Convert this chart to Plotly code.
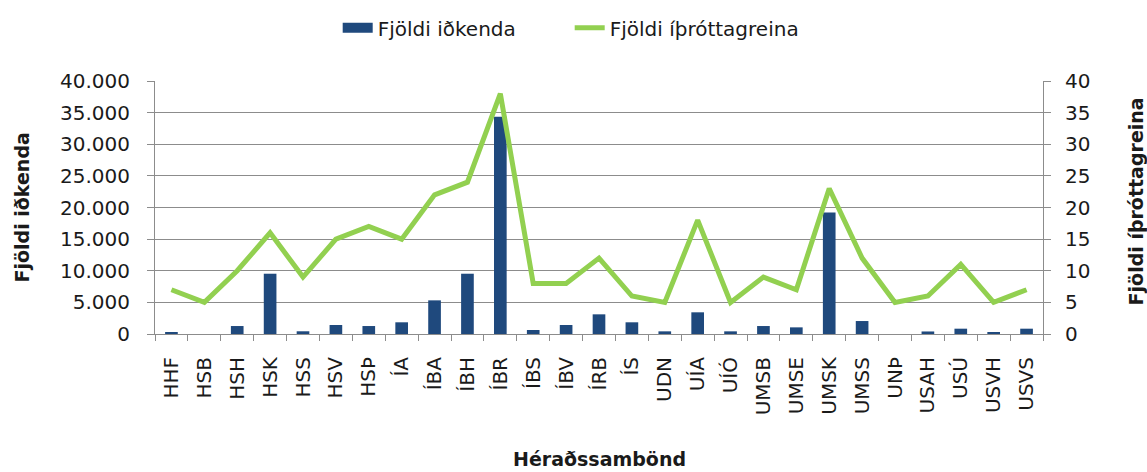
import plotly.graph_objects as go

categories = ["HHF", "HSB", "HSH", "HSK", "HSS", "HSV", "HSÞ", "ÍA", "ÍBA", "ÍBH", "ÍBR", "ÍBS", "ÍBV",
              "ÍRB", "ÍS", "UDN", "UÍA", "UÍÓ", "UMSB", "UMSE", "UMSK", "UMSS", "UNÞ", "USAH", "USÚ",
              "USVH", "USVS"]
idkendur = [300, 0, 1260, 9530, 430, 1420, 1260, 1850, 5320, 9530, 34330, 630, 1420,
            3110, 1850, 420, 3430, 420, 1260, 1050, 19220, 2050, 0, 400, 840, 200, 840]
greinar = [7, 5, 10, 16, 9, 15, 17, 15, 22, 24, 38, 8, 8,
           12, 6, 5, 18, 5, 9, 7, 23, 12, 5, 6, 11, 5, 7]

left_ticks = [0, 5000, 10000, 15000, 20000, 25000, 30000, 35000, 40000]
right_ticks = [0, 5, 10, 15, 20, 25, 30, 35, 40]

FONT = "DejaVu Sans"
TXT = "#1a1a1a"
GRID = "#8c8c8c"
BAR_COLOR = "#1F497D"
LINE_COLOR = "#92D050"

fig = go.Figure()
fig.add_trace(go.Bar(x=categories, y=idkendur, name="Fjöldi iðkenda", showlegend=False,
                     legendgroup="bar",
                     marker=dict(color=BAR_COLOR, line=dict(width=0)), yaxis="y"))
# legend entry with a wide rectangular swatch, like the reference
fig.add_trace(go.Scatter(x=[None], y=[None], name="Fjöldi iðkenda", mode="lines",
                         legendgroup="bar", line=dict(color=BAR_COLOR, width=13), yaxis="y"))
fig.add_trace(go.Scatter(x=categories, y=greinar, name="Fjöldi íþróttagreina", mode="lines",
                         line=dict(color=LINE_COLOR, width=5), yaxis="y2"))

fig.update_layout(
    width=1147, height=472,
    margin=dict(l=155, r=104, t=81, b=138, autoexpand=False),
    paper_bgcolor="white", plot_bgcolor="white",
    font=dict(family=FONT, color=TXT, size=20),
    separators=",.",
    bargap=0.615,
    showlegend=True,
    legend=dict(orientation="h", x=0.467, xanchor="center", y=1.21, yanchor="middle",
                font=dict(size=20, family=FONT, color=TXT), entrywidth=187,
                entrywidthmode="pixels", bgcolor="rgba(0,0,0,0)"),
    xaxis=dict(type="category", tickangle=-90, tickfont=dict(size=20, family=FONT, color=TXT),
               showline=True, linecolor=GRID, linewidth=1, automargin=False,
               ticks="outside", tickson="boundaries", ticklen=6, tickcolor=GRID,
               ticklabelstandoff=14,
               showgrid=False, range=[-0.5, len(categories) - 0.5]),
    yaxis=dict(range=[0, 40000], tickvals=left_ticks, tickformat=",d",
               tickfont=dict(size=20, family=FONT, color=TXT), automargin=False,
               showline=True, linecolor=GRID, linewidth=1,
               ticks="outside", ticklen=7, tickcolor=GRID, ticklabelstandoff=13,
               showgrid=True, gridcolor=GRID, gridwidth=1, zeroline=False),
    yaxis2=dict(range=[0, 40], tickvals=right_ticks, overlaying="y", side="right",
                tickfont=dict(size=20, family=FONT, color=TXT), automargin=False,
                showline=True, linecolor=GRID, linewidth=1,
                ticks="outside", ticklen=7, tickcolor=GRID, ticklabelstandoff=10,
                showgrid=False, zeroline=False),
    annotations=[
        dict(text="<b>Fjöldi iðkenda</b>", xref="paper", yref="paper", x=-0.1509, y=0.5,
             textangle=-90, showarrow=False, font=dict(size=19, family=FONT, color=TXT),
             xanchor="center", yanchor="middle"),
        dict(text="<b>Fjöldi íþróttagreina</b>", xref="paper", yref="paper", x=1.1047, y=0.524,
             textangle=-90, showarrow=False, font=dict(size=19, family=FONT, color=TXT),
             xanchor="center", yanchor="middle"),
        dict(text="<b>Héraðssambönd</b>", xref="paper", yref="paper", x=0.5006, y=-0.495,
             showarrow=False, font=dict(size=19, family=FONT, color=TXT),
             xanchor="center", yanchor="middle"),
    ],
)

fig.write_html("out.html", config={"displayModeBar": False},
               post_script="document.body.style.margin='0';document.body.style.padding='0';")
